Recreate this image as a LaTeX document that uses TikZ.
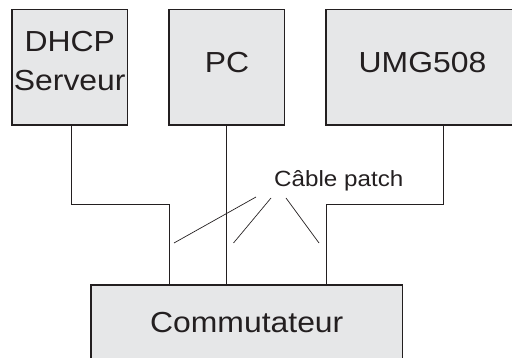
\documentclass[tikz,border=0pt]{standalone}
\usepackage{fontspec}
\setmainfont{Liberation Sans}[FakeStretch=1.1]
\definecolor{boxfill}{HTML}{E6E7E8}
\definecolor{ink}{HTML}{231F20}
\begin{document}
\begin{tikzpicture}[x=1pt,y=-1pt,
  box/.style={draw=ink, fill=boxfill, line width=1.5pt, inner sep=0pt, rectangle},
  big/.style={font=\fontsize{29}{29}\selectfont, text=ink, inner sep=0pt, anchor=base},
  small/.style={font=\fontsize{22}{22}\selectfont, text=ink, inner sep=0pt, anchor=base west},
  wire/.style={draw=ink, line width=0.9pt},
  pointer/.style={draw=ink, line width=0.7pt}]
\useasboundingbox (0,0) rectangle (512,358);
% boxes
\node[box, minimum width=115.5pt, minimum height=115.5pt] (dhcp) at (69.75,67.25) {};
\node[box, minimum width=115.5pt, minimum height=115.5pt] (pc) at (226.75,67.25) {};
\node[box, minimum width=235pt, minimum height=115.5pt] (umg) at (443.5,67.25) {};
\node[box, minimum width=311.5pt, minimum height=130pt] (sw) at (246.75,350) {};
% texts
\node[big] (t1) at (69.75,52) {DHCP};
\node[big] (t2) at (69.75,91) {Serveur};
\node[big] (t3) at (227,73) {PC};
\node[big] (t4) at (422.5,73) {UMG508};
\node[big] (t5) at (246.75,333) {Commutateur};
\node[small] (cp) at (274,187) {Câble patch};
% wires
\draw[wire] ([xshift=1.25pt]dhcp.south) |- (169,204) -- ([xshift=-77.75pt]sw.north);
\draw[wire] ([xshift=-0.5pt]pc.south) -- ([xshift=-20.5pt]sw.north);
\draw[wire] (umg.south) |- (326,204) -- ([xshift=79.25pt]sw.north);
% pointer lines
\coordinate (p1s) at (256,197); \coordinate (p1e) at (174,243);
\coordinate (p2s) at (271,198); \coordinate (p2e) at (233.5,243);
\coordinate (p3s) at (286,198); \coordinate (p3e) at (319,243);
\draw[pointer] (p1s) -- (p1e);
\draw[pointer] (p2s) -- (p2e);
\draw[pointer] (p3s) -- (p3e);
\end{tikzpicture}
\end{document}
